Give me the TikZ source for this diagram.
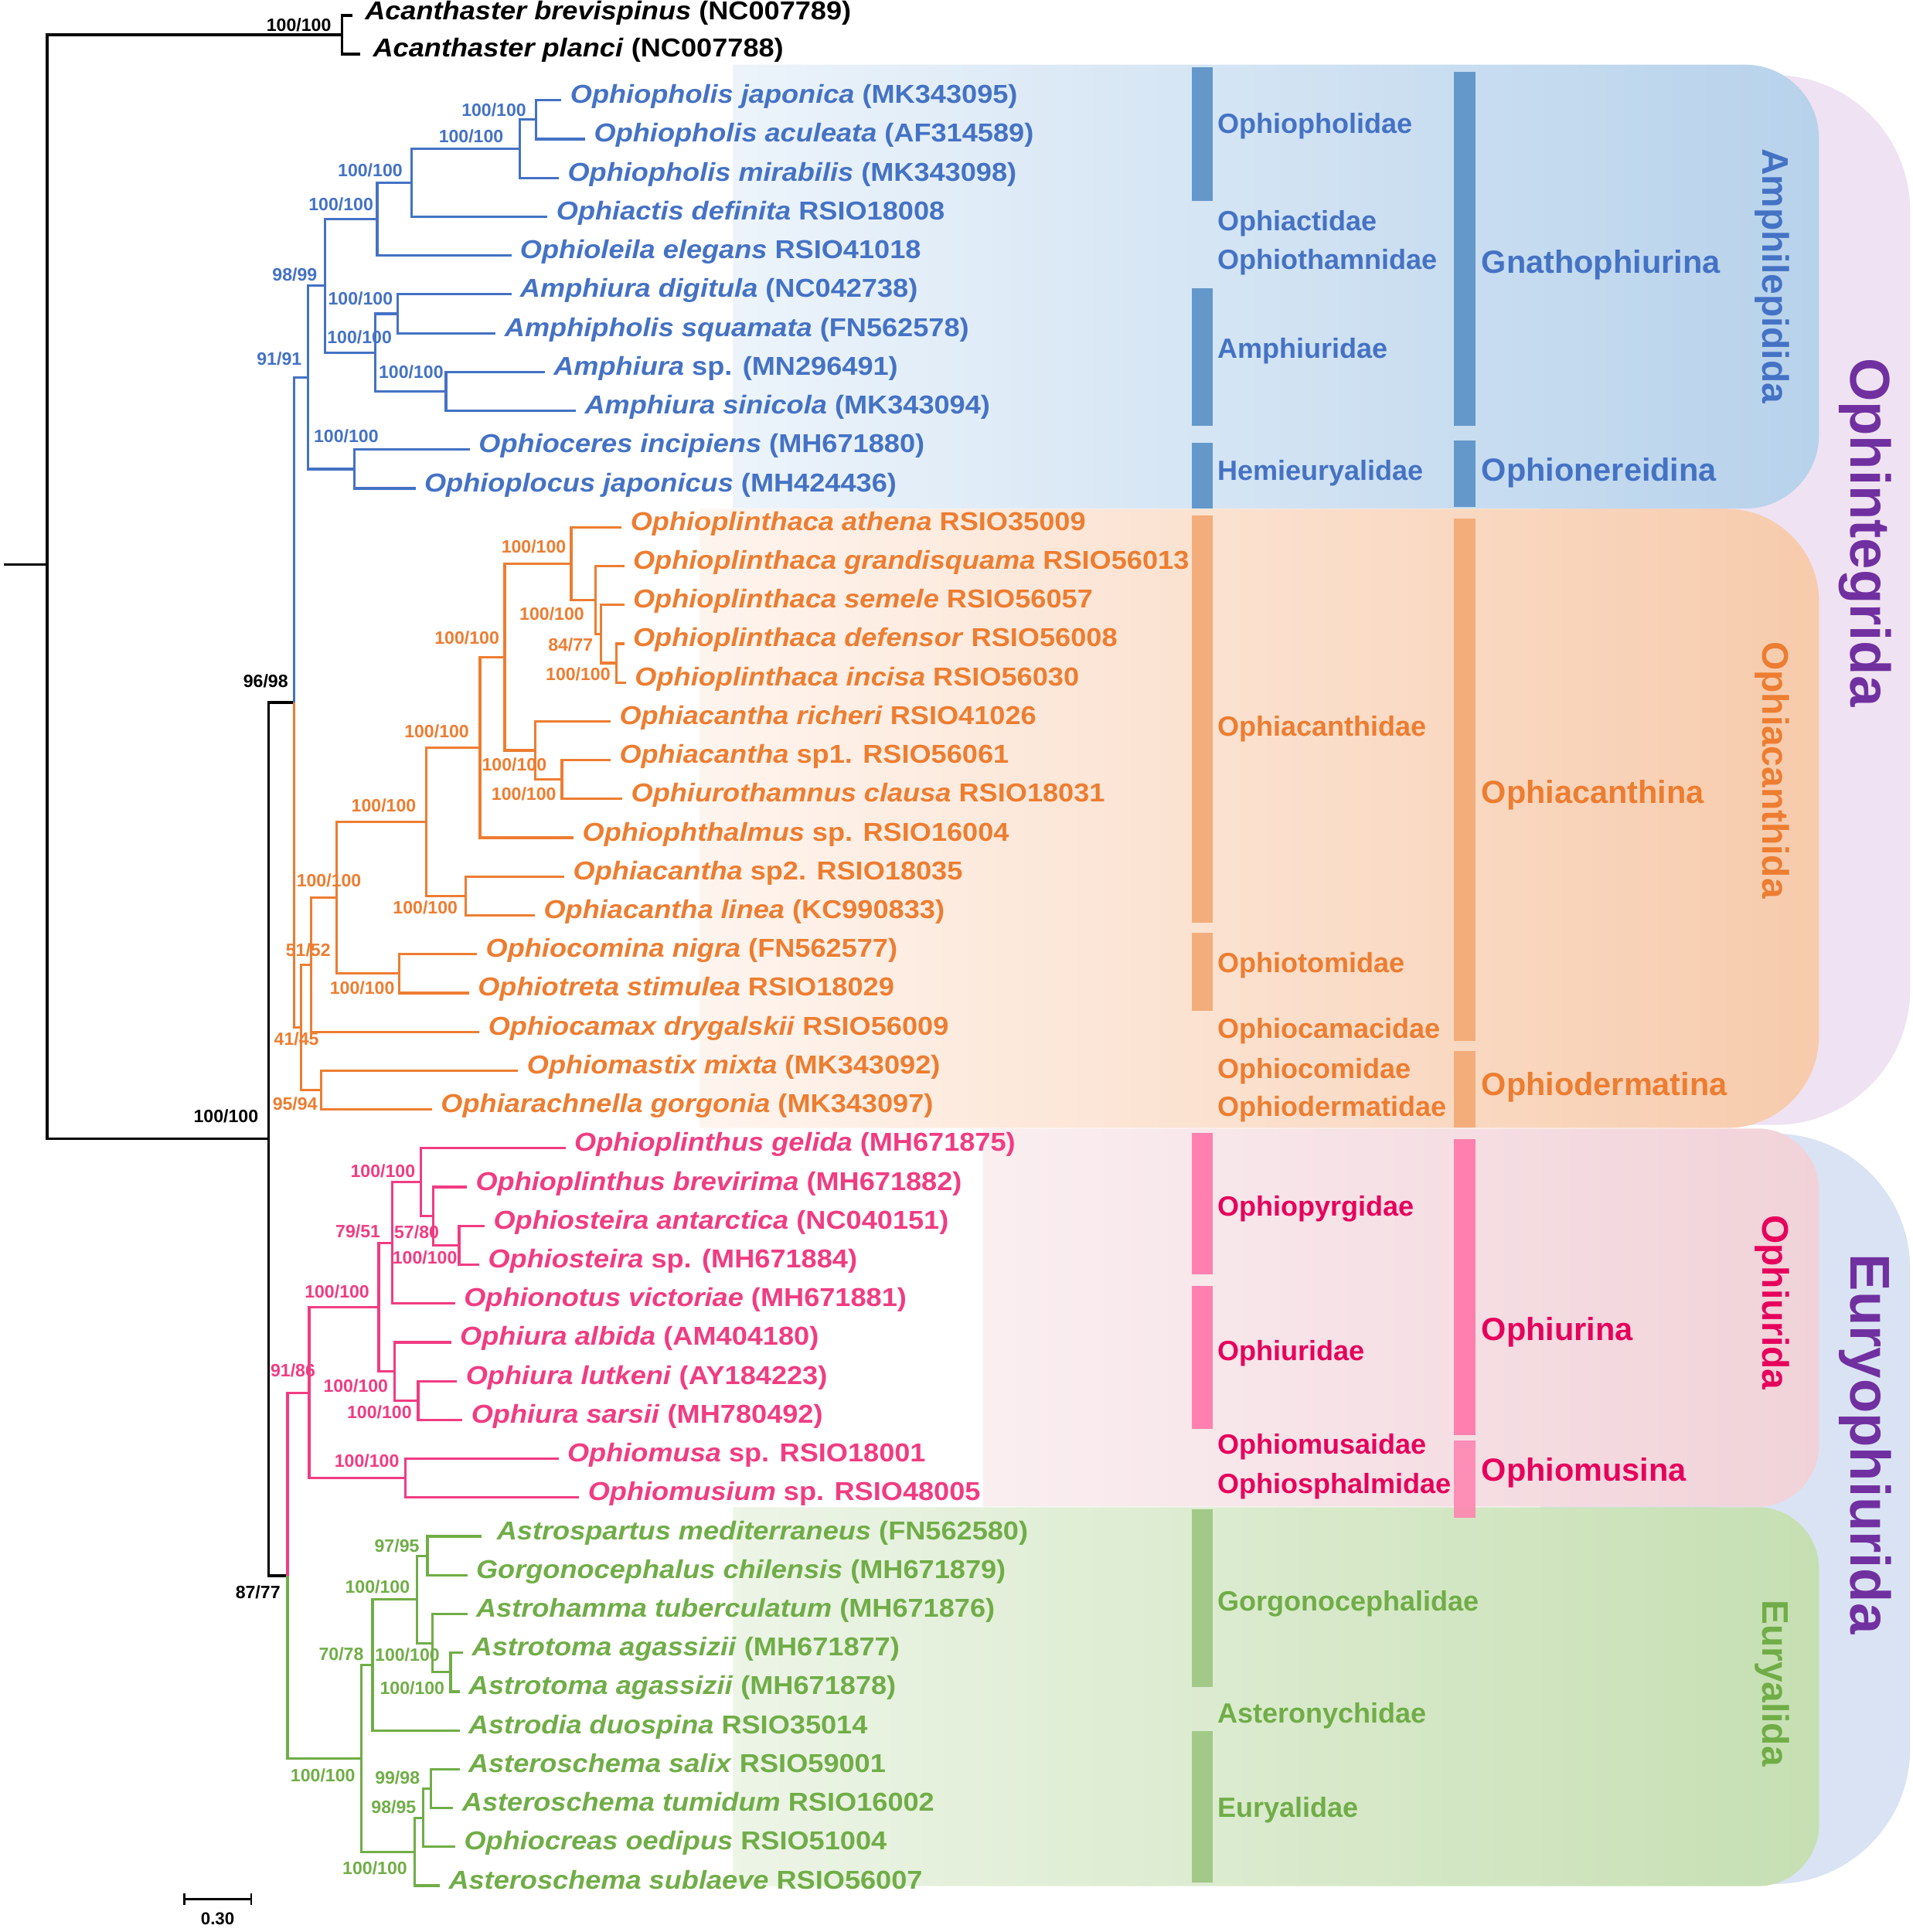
\documentclass[tikz,border=0pt]{standalone}
\usepackage{fontspec}
\setmainfont{Liberation Sans}
\newfontfamily\taxfont{Liberation Sans}[FakeStretch=1.08]
\usepackage{xcolor}
\usepackage{tikz}

\definecolor{cBlue}{HTML}{4472C4}
\definecolor{cOrange}{HTML}{ED7D31}
\definecolor{cPink}{HTML}{F03C82}
\definecolor{cPinkD}{HTML}{E6005C}
\definecolor{cGreen}{HTML}{70AD47}
\definecolor{cPurple}{HTML}{7030A0}
\definecolor{barBlue}{HTML}{6498CA}
\definecolor{barOrange}{HTML}{F3AD7B}
\definecolor{barPink}{HTML}{FF80AE}
\definecolor{barGreen}{HTML}{A2C988}
\definecolor{bgBlueL}{HTML}{F0F6FC}
\definecolor{bgBlueR}{HTML}{B7D2EB}
\definecolor{bgOrangeL}{HTML}{FFF8F4}
\definecolor{bgOrangeR}{HTML}{F7CBAC}
\definecolor{bgPinkL}{HTML}{FBF1F3}
\definecolor{bgPinkR}{HTML}{F1D2D9}
\definecolor{bgGreenL}{HTML}{EFF6EA}
\definecolor{bgGreenR}{HTML}{C6DFB2}
\definecolor{bgLavender}{HTML}{EFE2F2}
\definecolor{bgPeri}{HTML}{DAE3F3}

\begin{document}
\begin{tikzpicture}[x=1pt, y=-1pt,
    br/.style={line width=2pt},
    taxon/.style={anchor=base west, inner sep=0pt, font=\taxfont\fontsize{21}{23}\selectfont\bfseries},
    bs/.style={inner sep=0pt, font=\fontsize{14.5}{16}\selectfont\bfseries},
    fam/.style={anchor=west, inner sep=0pt, font=\fontsize{22.6}{24}\selectfont\bfseries},
    subo/.style={anchor=west, inner sep=0pt, font=\fontsize{26}{28}\selectfont\bfseries},
    ordo/.style={anchor=base, rotate=-90, inner sep=0pt, font=\fontsize{30}{32}\selectfont\bfseries},
    clade/.style={anchor=base, rotate=-90, inner sep=0pt, text=cPurple, font=\fontsize{45.5}{48}\selectfont\bfseries}]
    \useasboundingbox (0,0) rectangle (1552,1568);

    % Riquadri di sfondo
    \fill[bgLavender, rounded corners=110pt] (1250,61) rectangle (1550,913);
    \fill[bgPeri, rounded corners=110pt] (1250,920) rectangle (1550,1529);
    \begin{scope}
        \clip (595,0) rectangle (1552,412.8);
        \shade[left color=bgBlueL, right color=bgBlueR, rounded corners=60pt] (530,52.5) rectangle (1476,412.8);
    \end{scope}
    \begin{scope}
        \clip (568,412.8) rectangle (1552,915.5);
        \shade[left color=bgOrangeL, right color=bgOrangeR, rounded corners=75pt] (490,413) rectangle (1476,915.5);
    \end{scope}
    \begin{scope}
        \clip (798,915.5) rectangle (1552,1223);
        \shade[left color=bgPinkL, right color=bgPinkR, rounded corners=50pt] (740,915.9) rectangle (1476,1222.8);
    \end{scope}
    \begin{scope}
        \clip (595,1223) rectangle (1552,1568);
        \shade[left color=bgGreenL, right color=bgGreenR, rounded corners=50pt] (540,1223.2) rectangle (1476,1530.8);
    \end{scope}

    % Barre delle famiglie e dei sottordini
    \fill[barBlue] (967,54.5) rectangle (984,163.3);
    \fill[barBlue] (967,234.2) rectangle (984,345.8);
    \fill[barBlue] (967,359.5) rectangle (984,412.5);
    \fill[barBlue] (1180,58.2) rectangle (1197,345.8);
    \fill[barBlue] (1180,357.5) rectangle (1197,411.3);
    \fill[barOrange] (967,418.3) rectangle (984,749);
    \fill[barOrange] (967,757.2) rectangle (984,820.1);
    \fill[barOrange] (1180,421) rectangle (1197,844.9);
    \fill[barOrange] (1180,852.7) rectangle (1197,915.2);
    \fill[barPink] (967,919.2) rectangle (984,1034);
    \fill[barPink] (967,1043.9) rectangle (984,1159.4);
    \fill[barPink] (1180,924.3) rectangle (1197,1164.4);
    \fill[barPink, opacity=0.85] (1180,1168.8) rectangle (1197,1231.5);
    \fill[barGreen] (967,1225.1) rectangle (984,1369.4);
    \fill[barGreen] (967,1404.7) rectangle (984,1527.8);

    % Famiglie
    \node[fam, cBlue] (f1) at (988,102.1) {Ophiopholidae};
    \node[fam, cBlue] (f2) at (988,181.4) {Ophiactidae};
    \node[fam, cBlue] (f3) at (988,212.9) {Ophiothamnidae};
    \node[fam, cBlue] (f4) at (988,284.8) {Amphiuridae};
    \node[fam, cBlue] (f5) at (988,384.2) {Hemieuryalidae};
    \node[fam, cOrange] (f6) at (988,591.6) {Ophiacanthidae};
    \node[fam, cOrange] (f7) at (988,783.7) {Ophiotomidae};
    \node[fam, cOrange] (f8) at (988,837.1) {Ophiocamacidae};
    \node[fam, cOrange] (f9) at (988,869.7) {Ophiocomidae};
    \node[fam, cOrange] (f10) at (988,900.3) {Ophiodermatidae};
    \node[fam, cPinkD] (f11) at (988,980.8) {Ophiopyrgidae};
    \node[fam, cPinkD] (f12) at (988,1098.5) {Ophiuridae};
    \node[fam, cPinkD] (f13) at (988,1174.3) {Ophiomusaidae};
    \node[fam, cPinkD] (f14) at (988,1206.2) {Ophiosphalmidae};
    \node[fam, cGreen] (f15) at (988,1301.9) {Gorgonocephalidae};
    \node[fam, cGreen] (f16) at (988,1392.2) {Asteronychidae};
    \node[fam, cGreen] (f17) at (988,1469) {Euryalidae};

    % Sottordini
    \node[subo, cBlue] (s1) at (1202,214.9) {Gnathophiurina};
    \node[subo, cBlue] (s2) at (1202,383.5) {Ophionereidina};
    \node[subo, cOrange] (s3) at (1202,645.3) {Ophiacanthina};
    \node[subo, cOrange] (s4) at (1202,882.3) {Ophiodermatina};
    \node[subo, cPinkD] (s5) at (1202,1080.9) {Ophiurina};
    \node[subo, cPinkD] (s6) at (1202,1195.2) {Ophiomusina};

    % Ordini e superordini
    \node[ordo, cBlue] (o1) at (1430,224) {Amphilepidida};
    \node[ordo, cOrange] (o2) at (1430,625) {Ophiacanthida};
    \node[ordo, cPinkD] (o3) at (1430,1057) {Ophiurida};
    \node[ordo, cGreen] (o4) at (1430,1366) {Euryalida};
    \node[clade] (c1) at (1502,432) {Ophintegrida};
    \node[clade] (c2) at (1502,1172) {Euryophiurida};

    % Nodi interni
    \coordinate (stub) at (3,458);
    \coordinate (root) at (38.3,458);
    \coordinate (nAc) at (277.5,28.2);
    \coordinate (nL) at (218,924.4);
    \coordinate (nK) at (238.7,570.1);
    \coordinate (nM) at (233.3,1278.7);
    \coordinate (nA) at (435,97.15);
    \coordinate (nB) at (422,120.8);
    \coordinate (nC) at (334.2,148.35);
    \coordinate (nD) at (306.1,177.9);
    \coordinate (nE) at (263.7,232);
    \coordinate (nF) at (322.5,254.65);
    \coordinate (nG) at (361.9,317.65);
    \coordinate (nH) at (304.4,286.15);
    \coordinate (nI) at (287.6,380.65);
    \coordinate (nJ) at (249.8,306.3);
    \coordinate (nN) at (244.3,833.8);
    \coordinate (nO) at (252.2,783);
    \coordinate (nQ) at (260.6,884.65);
    \coordinate (nP) at (273.1,728.5);
    \coordinate (nT) at (324.1,790.15);
    \coordinate (nS) at (346.1,666.9);
    \coordinate (nR) at (378.1,727.15);
    \coordinate (nU) at (389.5,606.6);
    \coordinate (nV) at (409.6,533.2);
    \coordinate (nW) at (463.5,457.4);
    \coordinate (nX) at (483,487);
    \coordinate (nY) at (487.5,514.5);
    \coordinate (nZ) at (500,538.15);
    \coordinate (nAA) at (434.1,609);
    \coordinate (nAB) at (456,632.65);
    \coordinate (nPA) at (250.9,1130.3);
    \coordinate (nPB) at (307.3,1060.9);
    \coordinate (nPC) at (318.1,1008.7);
    \coordinate (nPD) at (341.3,959.5);
    \coordinate (nPE) at (351.3,987);
    \coordinate (nPF) at (372.5,1010.65);
    \coordinate (nPG) at (320.1,1113);
    \coordinate (nPH) at (339.3,1136.65);
    \coordinate (nPI) at (328.9,1199.65);
    \coordinate (nGA) at (293.1,1427.05);
    \coordinate (nGB) at (302.3,1351.25);
    \coordinate (nGC) at (338.4,1298.1);
    \coordinate (nGD) at (346.8,1262.65);
    \coordinate (nGE) at (351,1333.5);
    \coordinate (nGF) at (365.7,1357.15);
    \coordinate (nGG) at (336.3,1502.85);
    \coordinate (nGH) at (343.5,1475.3);
    \coordinate (nGI) at (349.8,1451.65);

    % Estremi dei rami
    \coordinate (e1) at (286,12.5);
    \coordinate (e2) at (292.5,43.9);
    \coordinate (e3) at (455.6,81.4);
    \coordinate (e4) at (474.9,112.9);
    \coordinate (e5) at (453.5,144.4);
    \coordinate (e6) at (444.3,175.9);
    \coordinate (e7) at (414.9,207.4);
    \coordinate (e8) at (414.9,238.9);
    \coordinate (e9) at (402.3,270.4);
    \coordinate (e10) at (442.1,301.9);
    \coordinate (e11) at (467.3,333.4);
    \coordinate (e12) at (381.3,364.9);
    \coordinate (e13) at (337.2,396.4);
    \coordinate (e14) at (504.5,427.9);
    \coordinate (e15) at (506.5,459.4);
    \coordinate (e16) at (506.5,490.9);
    \coordinate (e17) at (506.5,522.4);
    \coordinate (e18) at (508,553.9);
    \coordinate (e19) at (495.5,585.4);
    \coordinate (e20) at (495.5,616.9);
    \coordinate (e21) at (505,648.4);
    \coordinate (e22) at (465.5,679.9);
    \coordinate (e23) at (458,711.4);
    \coordinate (e24) at (434.1,742.9);
    \coordinate (e25) at (387.1,774.4);
    \coordinate (e26) at (380.6,805.9);
    \coordinate (e27) at (389.1,837.4);
    \coordinate (e28) at (420.5,868.9);
    \coordinate (e29) at (350.6,900.4);
    \coordinate (e30) at (458.9,931.9);
    \coordinate (e31) at (378.9,963.4);
    \coordinate (e32) at (393.3,994.9);
    \coordinate (e33) at (388.9,1026.4);
    \coordinate (e34) at (369.3,1057.9);
    \coordinate (e35) at (366.1,1089.4);
    \coordinate (e36) at (370.9,1120.9);
    \coordinate (e37) at (375.3,1152.4);
    \coordinate (e38) at (453.2,1183.9);
    \coordinate (e39) at (470,1215.4);
    \coordinate (e40) at (390.5,1246.9);
    \coordinate (e41) at (379.2,1278.4);
    \coordinate (e42) at (379.2,1309.9);
    \coordinate (e43) at (375.8,1341.4);
    \coordinate (e44) at (372.9,1372.9);
    \coordinate (e45) at (372.9,1404.4);
    \coordinate (e46) at (372.9,1435.9);
    \coordinate (e47) at (367.8,1467.4);
    \coordinate (e48) at (369.5,1498.9);
    \coordinate (e49) at (356.9,1530.4);

    % Rami neri
    \draw[br] (stub) -- (root);
    \draw[br] (root) |- (nAc) (root) |- (nL);
    \draw[br] (nAc) |- (e1) (nAc) |- (e2);
    \draw[br, line width=2.3pt] (nL) |- (nK) (nL) |- (nM);

    % Amphilepidida
    \draw[br, cBlue] (nK) |- (nJ) (nJ) |- (nE) (nJ) |- (nI)
        (nE) |- (nD) (nE) |- (nH) (nD) |- (nC) (nD) |- (e7)
        (nC) |- (nB) (nC) |- (e6) (nB) |- (nA) (nB) |- (e5)
        (nA) |- (e3) (nA) |- (e4) (nH) |- (nF) (nH) |- (nG)
        (nF) |- (e8) (nF) |- (e9) (nG) |- (e10) (nG) |- (e11)
        (nI) |- (e12) (nI) |- (e13);

    % Ophiacanthida
    \draw[br, cOrange] (nK) |- (nN) (nN) |- (nO) (nN) |- (nQ)
        (nO) |- (nP) (nO) |- (e27) (nP) |- (nS) (nP) |- (nT)
        (nS) |- (nU) (nS) |- (nR) (nU) |- (nV) (nU) |- (e22)
        (nV) |- (nW) (nV) |- (nAA) (nW) |- (e14) (nW) |- (nX)
        (nX) |- (e15) (nX) |- (nY) (nY) |- (e16) (nY) |- (nZ)
        (nZ) |- (e17) (nZ) |- (e18) (nAA) |- (e19) (nAA) |- (nAB)
        (nAB) |- (e20) (nAB) |- (e21) (nR) |- (e23) (nR) |- (e24)
        (nT) |- (e25) (nT) |- (e26) (nQ) |- (e28) (nQ) |- (e29);

    % Ophiurida
    \draw[br, cPink] (nM) |- (nPA) (nPA) |- (nPB) (nPA) |- (nPI)
        (nPB) |- (nPC) (nPB) |- (nPG) (nPC) |- (nPD) (nPC) |- (e34)
        (nPD) |- (e30) (nPD) |- (nPE) (nPE) |- (e31) (nPE) |- (nPF)
        (nPF) |- (e32) (nPF) |- (e33) (nPG) |- (e35) (nPG) |- (nPH)
        (nPH) |- (e36) (nPH) |- (e37) (nPI) |- (e38) (nPI) |- (e39);

    % Euryalida
    \draw[br, cGreen] (nM) |- (nGA) (nGA) |- (nGB) (nGA) |- (nGG)
        (nGB) |- (nGC) (nGB) |- (e45) (nGC) |- (nGD) (nGC) |- (nGE)
        (nGD) |- (e40) (nGD) |- (e41) (nGE) |- (e42) (nGE) |- (nGF)
        (nGF) |- (e43) (nGF) |- (e44) (nGG) |- (nGH) (nGG) |- (e49)
        (nGH) |- (nGI) (nGH) |- (e48) (nGI) |- (e46) (nGI) |- (e47);

    % Nomi dei taxa
    \node[taxon] (t1) at ([shift={(10pt,-3.5pt)}]e1) {\textit{Acanthaster brevispinus} (NC007789)};
    \node[taxon] (t2) at ([shift={(10pt,-2.5pt)}]e2) {\textit{Acanthaster planci} (NC007788)};
    \node[taxon, cBlue] (t3) at ([shift={(7pt,-2.5pt)}]e3) {\textit{Ophiopholis japonica} (MK343095)};
    \node[taxon, cBlue] (t4) at ([shift={(7pt,-2.5pt)}]e4) {\textit{Ophiopholis aculeata} (AF314589)};
    \node[taxon, cBlue] (t5) at ([shift={(7pt,-2.5pt)}]e5) {\textit{Ophiopholis mirabilis} (MK343098)};
    \node[taxon, cBlue] (t6) at ([shift={(7pt,-2.5pt)}]e6) {\textit{Ophiactis definita} RSIO18008};
    \node[taxon, cBlue] (t7) at ([shift={(7pt,-2.5pt)}]e7) {\textit{Ophioleila elegans} RSIO41018};
    \node[taxon, cBlue] (t8) at ([shift={(7pt,-2.5pt)}]e8) {\textit{Amphiura digitula} (NC042738)};
    \node[taxon, cBlue] (t9) at ([shift={(7pt,-2.5pt)}]e9) {\textit{Amphipholis squamata} (FN562578)};
    \node[taxon, cBlue] (t10) at ([shift={(7pt,-2.5pt)}]e10) {\textit{Amphiura} sp. (MN296491)};
    \node[taxon, cBlue] (t11) at ([shift={(7pt,-2.5pt)}]e11) {\textit{Amphiura sinicola} (MK343094)};
    \node[taxon, cBlue] (t12) at ([shift={(7pt,-2.5pt)}]e12) {\textit{Ophioceres incipiens} (MH671880)};
    \node[taxon, cBlue] (t13) at ([shift={(7pt,-2.5pt)}]e13) {\textit{Ophioplocus japonicus} (MH424436)};
    \node[taxon, cOrange] (t14) at ([shift={(7pt,-2.5pt)}]e14) {\textit{Ophioplinthaca athena} RSIO35009};
    \node[taxon, cOrange] (t15) at ([shift={(7pt,-2.5pt)}]e15) {\textit{Ophioplinthaca grandisquama} RSIO56013};
    \node[taxon, cOrange] (t16) at ([shift={(7pt,-2.5pt)}]e16) {\textit{Ophioplinthaca semele} RSIO56057};
    \node[taxon, cOrange] (t17) at ([shift={(7pt,-2.5pt)}]e17) {\textit{Ophioplinthaca defensor} RSIO56008};
    \node[taxon, cOrange] (t18) at ([shift={(7pt,-2.5pt)}]e18) {\textit{Ophioplinthaca incisa} RSIO56030};
    \node[taxon, cOrange] (t19) at ([shift={(7pt,-2.5pt)}]e19) {\textit{Ophiacantha richeri} RSIO41026};
    \node[taxon, cOrange] (t20) at ([shift={(7pt,-2.5pt)}]e20) {\textit{Ophiacantha} sp1. RSIO56061};
    \node[taxon, cOrange] (t21) at ([shift={(7pt,-2.5pt)}]e21) {\textit{Ophiurothamnus clausa} RSIO18031};
    \node[taxon, cOrange] (t22) at ([shift={(7pt,-2.5pt)}]e22) {\textit{Ophiophthalmus} sp. RSIO16004};
    \node[taxon, cOrange] (t23) at ([shift={(7pt,-2.5pt)}]e23) {\textit{Ophiacantha} sp2. RSIO18035};
    \node[taxon, cOrange] (t24) at ([shift={(7pt,-2.5pt)}]e24) {\textit{Ophiacantha linea} (KC990833)};
    \node[taxon, cOrange] (t25) at ([shift={(7pt,-2.5pt)}]e25) {\textit{Ophiocomina nigra} (FN562577)};
    \node[taxon, cOrange] (t26) at ([shift={(7pt,-2.5pt)}]e26) {\textit{Ophiotreta stimulea} RSIO18029};
    \node[taxon, cOrange] (t27) at ([shift={(7pt,-2.5pt)}]e27) {\textit{Ophiocamax drygalskii} RSIO56009};
    \node[taxon, cOrange] (t28) at ([shift={(7pt,-2.5pt)}]e28) {\textit{Ophiomastix mixta} (MK343092)};
    \node[taxon, cOrange] (t29) at ([shift={(7pt,-2.5pt)}]e29) {\textit{Ophiarachnella gorgonia} (MK343097)};
    \node[taxon, cPink] (t30) at ([shift={(7pt,-2.5pt)}]e30) {\textit{Ophioplinthus gelida} (MH671875)};
    \node[taxon, cPink] (t31) at ([shift={(7pt,-2.5pt)}]e31) {\textit{Ophioplinthus brevirima} (MH671882)};
    \node[taxon, cPink] (t32) at ([shift={(7pt,-2.5pt)}]e32) {\textit{Ophiosteira antarctica} (NC040151)};
    \node[taxon, cPink] (t33) at ([shift={(7pt,-2.5pt)}]e33) {\textit{Ophiosteira} sp. (MH671884)};
    \node[taxon, cPink] (t34) at ([shift={(7pt,-2.5pt)}]e34) {\textit{Ophionotus victoriae} (MH671881)};
    \node[taxon, cPink] (t35) at ([shift={(7pt,-2.5pt)}]e35) {\textit{Ophiura albida} (AM404180)};
    \node[taxon, cPink] (t36) at ([shift={(7pt,-2.5pt)}]e36) {\textit{Ophiura lutkeni} (AY184223)};
    \node[taxon, cPink] (t37) at ([shift={(7pt,-2.5pt)}]e37) {\textit{Ophiura sarsii} (MH780492)};
    \node[taxon, cPink] (t38) at ([shift={(7pt,-2.5pt)}]e38) {\textit{Ophiomusa} sp. RSIO18001};
    \node[taxon, cPink] (t39) at ([shift={(7pt,-2.5pt)}]e39) {\textit{Ophiomusium} sp. RSIO48005};
    \node[taxon, cGreen] (t40) at ([shift={(12.5pt,-2.5pt)}]e40) {\textit{Astrospartus mediterraneus} (FN562580)};
    \node[taxon, cGreen] (t41) at ([shift={(7pt,-2.5pt)}]e41) {\textit{Gorgonocephalus chilensis} (MH671879)};
    \node[taxon, cGreen] (t42) at ([shift={(7pt,-2.5pt)}]e42) {\textit{Astrohamma tuberculatum} (MH671876)};
    \node[taxon, cGreen] (t43) at ([shift={(7pt,-2.5pt)}]e43) {\textit{Astrotoma agassizii} (MH671877)};
    \node[taxon, cGreen] (t44) at ([shift={(7pt,-2.5pt)}]e44) {\textit{Astrotoma agassizii} (MH671878)};
    \node[taxon, cGreen] (t45) at ([shift={(7pt,-2.5pt)}]e45) {\textit{Astrodia duospina} RSIO35014};
    \node[taxon, cGreen] (t46) at ([shift={(7pt,-2.5pt)}]e46) {\textit{Asteroschema salix} RSIO59001};
    \node[taxon, cGreen] (t47) at ([shift={(7pt,-2.5pt)}]e47) {\textit{Asteroschema tumidum} RSIO16002};
    \node[taxon, cGreen] (t48) at ([shift={(7pt,-2.5pt)}]e48) {\textit{Ophiocreas oedipus} RSIO51004};
    \node[taxon, cGreen] (t49) at ([shift={(7pt,-2.5pt)}]e49) {\textit{Asteroschema sublaeve} RSIO56007};

    % Supporti dei nodi
    \node[bs] (b1) at (242.5,20) {100/100};
    \node[bs] (b2) at (215.6,553) {96/98};
    \node[bs] (b3) at (183.4,906) {100/100};
    \node[bs] (b4) at (209.3,1292) {87/77};
    \node[bs, cBlue] (b5) at (400.8,89.3) {100/100};
    \node[bs, cBlue] (b6) at (382.3,110.9) {100/100};
    \node[bs, cBlue] (b7) at (300.4,138.2) {100/100};
    \node[bs, cBlue] (b8) at (276.7,166.1) {100/100};
    \node[bs, cBlue] (b9) at (239.2,223) {98/99};
    \node[bs, cBlue] (b10) at (292.5,242.2) {100/100};
    \node[bs, cBlue] (b11) at (291.7,273.4) {100/100};
    \node[bs, cBlue] (b12) at (333.6,302.2) {100/100};
    \node[bs, cBlue] (b13) at (226.6,291.4) {91/91};
    \node[bs, cBlue] (b14) at (280.9,353.7) {100/100};
    \node[bs, cOrange] (b15) at (433.1,443.6) {100/100};
    \node[bs, cOrange] (b16) at (447.8,498.5) {100/100};
    \node[bs, cOrange] (b17) at (463,523.6) {84/77};
    \node[bs, cOrange] (b18) at (469.1,547.2) {100/100};
    \node[bs, cOrange] (b19) at (378.9,517.8) {100/100};
    \node[bs, cOrange] (b20) at (354.4,593.6) {100/100};
    \node[bs, cOrange] (b21) at (417.3,620.8) {100/100};
    \node[bs, cOrange] (b22) at (425.1,644.2) {100/100};
    \node[bs, cOrange] (b23) at (311.4,653.8) {100/100};
    \node[bs, cOrange] (b24) at (266.9,714.5) {100/100};
    \node[bs, cOrange] (b25) at (345.1,736.8) {100/100};
    \node[bs, cOrange] (b26) at (250.1,771.3) {51/52};
    \node[bs, cOrange] (b27) at (293.9,801.6) {100/100};
    \node[bs, cOrange] (b28) at (240.6,843.4) {41/45};
    \node[bs, cOrange] (b29) at (239.4,895.7) {95/94};
    \node[bs, cPink] (b30) at (310.7,950.3) {100/100};
    \node[bs, cPink] (b31) at (290.5,999.4) {79/51};
    \node[bs, cPink] (b32) at (338.1,1000.2) {57/80};
    \node[bs, cPink] (b33) at (344.7,1020.6) {100/100};
    \node[bs, cPink] (b34) at (273.5,1048.2) {100/100};
    \node[bs, cPink] (b35) at (237.7,1112.1) {91/86};
    \node[bs, cPink] (b36) at (288.7,1124.6) {100/100};
    \node[bs, cPink] (b37) at (307.9,1146.4) {100/100};
    \node[bs, cPink] (b38) at (297.7,1185.9) {100/100};
    \node[bs, cGreen] (b39) at (322.1,1254.7) {97/95};
    \node[bs, cGreen] (b40) at (306.3,1287.7) {100/100};
    \node[bs, cGreen] (b41) at (276.9,1342.7) {70/78};
    \node[bs, cGreen] (b42) at (330.5,1343.3) {100/100};
    \node[bs, cGreen] (b43) at (334.5,1369.7) {100/100};
    \node[bs, cGreen] (b44) at (262,1440.6) {100/100};
    \node[bs, cGreen] (b45) at (322.5,1442.8) {99/98};
    \node[bs, cGreen] (b46) at (319.5,1466.5) {98/95};
    \node[bs, cGreen] (b47) at (304.2,1516.4) {100/100};

    % Scala
    \coordinate (sb1) at (149.5,1541.4);
    \coordinate (sb2) at (203.8,1541.4);
    \draw[line width=1.6pt] (sb1) -- (sb2);
    \draw[line width=1.6pt] ([yshift=4.5pt]sb1) -- ([yshift=-4.5pt]sb1);
    \draw[line width=1.6pt] ([yshift=4.5pt]sb2) -- ([yshift=-4.5pt]sb2);
    \node[font=\fontsize{14}{16}\selectfont\bfseries, inner sep=0pt] (sbl) at (176.6,1557) {0.30};
\end{tikzpicture}
\end{document}
